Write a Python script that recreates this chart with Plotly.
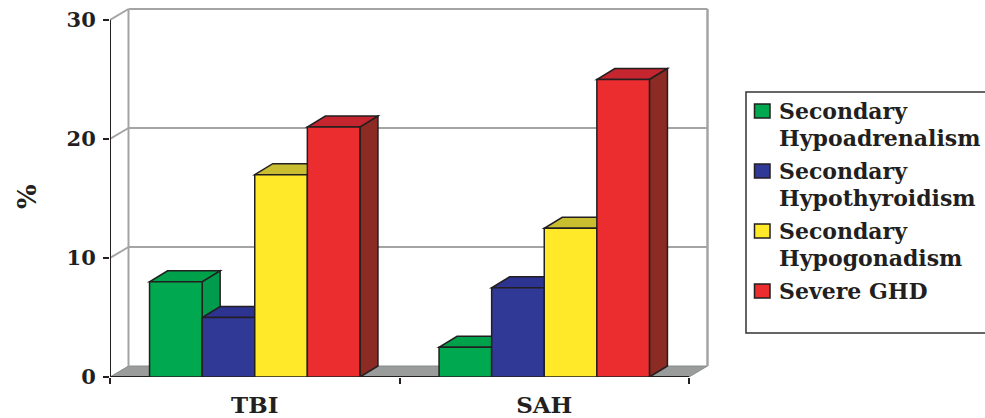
import plotly.graph_objects as go

categories = ["TBI", "SAH"]
series_names = ["Secondary<br>Hypoadrenalism", "Secondary<br>Hypothyroidism",
                "Secondary<br>Hypogonadism", "Severe GHD"]
hypoadrenalism = [8.0, 2.5]
hypothyroidism = [5.0, 7.5]
hypogonadism = [17.0, 12.5]
severe_ghd = [21.0, 25.0]
y_ticks = [0, 10, 20, 30]

series = [hypoadrenalism, hypothyroidism, hypogonadism, severe_ghd]
front = ["#00A94F", "#313996", "#FFE928", "#EC2D2F"]
top = ["#00A14B", "#2C3390", "#C8BE30", "#C4252E"]
side = ["#009B4C", "#283080", "#B0A820", "#8C2A24"]

PX_X, PX_Y = 289.5, 11.9
W, H = 985, 418
L, T, B = 110, 8, 41
PW = W - L
PH = H - T - B
DX, DY = 18 / PX_X, 11 / PX_Y
WX, WY = 18.5 / PX_X, 11 / PX_Y
X0, X1 = -0.5, 1.5
BAR_W = 52.6 / PX_X
FONT = "DejaVu Serif"
INK = "#231F20"
GRID = "#A3A5A5"


def px(x):
    return (x - L) / PW


def py(y):
    return (H - B - y) / PH


def poly(points):
    return "M" + " L".join(f"{x:.5f},{y:.4f}" for x, y in points) + " Z"


def shape(points, fill=None, color=INK, width=1.5):
    d = dict(type="path", xref="x", yref="y", layer="below", path=poly(points),
             line=dict(color=color, width=width))
    if fill:
        d["fillcolor"] = fill
    return d


def seg(x0, y0, x1, y1, color=GRID, width=2):
    return dict(type="line", xref="x", yref="y", layer="below", x0=x0, y0=y0, x1=x1, y1=y1,
                line=dict(color=color, width=width))


shapes = []
# floor
shapes.append(shape([(X0, 0), (X1, 0), (X1 + WX, WY), (X0 + WX, WY)], fill="#9A9C9C", color="#8A8C8C", width=1))
# walls and gridlines
shapes.append(seg(X0 + WX, WY, X0 + WX, 30 + WY))
shapes.append(seg(X1 + WX, WY, X1 + WX, 30 + WY, width=2.5))
for v in y_ticks[1:]:
    shapes.append(seg(X0, v, X0 + WX, v + WY))
    shapes.append(seg(X0 + WX, v + WY, X1 + WX, v + WY))
# front axes
shapes.append(seg(X0, 0, X0, 30, color=INK, width=2))
shapes.append(seg(X0, 0, X1, 0, color=INK, width=2))

# depth faces of bars
group = 4 * BAR_W
for s, vals in enumerate(series):
    for c, v in enumerate(vals):
        x_l = c - group / 2 + s * BAR_W
        x_r = x_l + BAR_W
        shapes.append(shape([(x_l, v), (x_r, v), (x_r + DX, v + DY), (x_l + DX, v + DY)], fill=top[s]))
        shapes.append(shape([(x_r, 0), (x_r, v), (x_r + DX, v + DY), (x_r + DX, DY)], fill=side[s]))

# legend box, drawn by hand so the swatch sits on the first text line
shapes.append(dict(type="rect", xref="paper", yref="paper", layer="below",
                   x0=px(746), x1=px(1000), y0=py(333), y1=py(92),
                   line=dict(color="#333333", width=1.5)))
annotations = []
swatch_tops = [104, 164, 224, 284]
line_centres = [[111, 138], [171, 198], [231, 258], [291]]
for s, name in enumerate(series_names):
    shapes.append(dict(type="rect", xref="paper", yref="paper", layer="below",
                       x0=px(754.5), x1=px(770), y0=py(swatch_tops[s] + 14), y1=py(swatch_tops[s]),
                       fillcolor=front[s], line=dict(color=INK, width=1.5)))
    for text, yc in zip(name.split("<br>"), line_centres[s]):
        annotations.append(dict(xref="paper", yref="paper", x=px(777), y=py(yc),
                                xanchor="left", yanchor="middle", text=text, showarrow=False,
                                font=dict(family=FONT, size=22, color=INK, weight="bold")))
annotations.append(dict(xref="paper", yref="paper", x=px(27), y=py(197), xanchor="center", yanchor="middle",
                        text="%", textangle=-90, showarrow=False,
                        font=dict(family=FONT, size=26, color=INK, weight="bold")))

fig = go.Figure()
for s, vals in enumerate(series):
    fig.add_trace(go.Bar(x=[0, 1], y=vals, name=series_names[s], showlegend=False,
                         marker=dict(color=front[s], line=dict(color=INK, width=1.5))))

fig.update_layout(
    width=W, height=H, autosize=False,
    margin=dict(l=L, r=0, t=T, b=B, pad=0),
    paper_bgcolor="white", plot_bgcolor="rgba(0,0,0,0)",
    barmode="group", bargap=1 - group, bargroupgap=0,
    shapes=shapes, annotations=annotations,
    showlegend=False,
    font=dict(family=FONT, color=INK),
    xaxis=dict(range=[X0, X0 + PW / PX_X], tickvals=[0, 1], ticktext=categories,
               showgrid=False, zeroline=False, showline=False, ticks="",
               ticklabelstandoff=12,
               tickfont=dict(family=FONT, size=23, color=INK, weight="bold"),
               minor=dict(tickvals=[X0, 0.5, X1], ticks="outside", ticklen=6, tickwidth=1.5, tickcolor=INK, showgrid=False)),
    yaxis=dict(range=[0, PH / PX_Y], tickvals=y_ticks, showgrid=False, zeroline=False,
               showline=False, ticks="outside", ticklen=6, tickwidth=1.5, tickcolor=INK,
               ticklabelstandoff=3,
               tickfont=dict(family=FONT, size=21, color=INK, weight="bold")),
)
fig.write_html("out.html", config={"displayModeBar": False}, post_script="document.body.style.margin='0';")
